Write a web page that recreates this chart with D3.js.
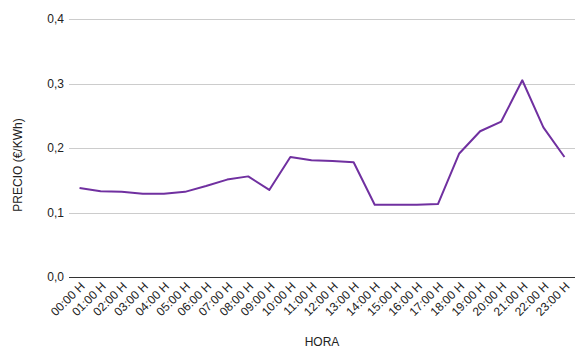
<!DOCTYPE html>
<meta charset="utf-8">
<style>
body {
  margin: 0;
  background: #fff;
  font-family: "Liberation Sans", Arial, sans-serif;
}
.grid line {
  stroke: #cccccc;
  stroke-width: 1;
}
.axis text {
  fill: #222;
  font-size: 12px;
}
</style>
<body>
<script src="https://cdn.jsdelivr.net/npm/d3@7/dist/d3.min.js"></script>
<script>

var width = 587,
    height = 353;

var margin = {top: 19, right: 12, bottom: 76, left: 69};

var hours = ["00:00 H", "01:00 H", "02:00 H", "03:00 H", "04:00 H", "05:00 H",
             "06:00 H", "07:00 H", "08:00 H", "09:00 H", "10:00 H", "11:00 H",
             "12:00 H", "13:00 H", "14:00 H", "15:00 H", "16:00 H", "17:00 H",
             "18:00 H", "19:00 H", "20:00 H", "21:00 H", "22:00 H", "23:00 H"];

var prices = [0.138, 0.133, 0.132, 0.129, 0.129, 0.132,
              0.141, 0.151, 0.156, 0.135, 0.186, 0.181,
              0.180, 0.178, 0.112, 0.112, 0.112, 0.113,
              0.191, 0.226, 0.241, 0.305, 0.232, 0.186];

var yTicks = [0, 0.1, 0.2, 0.3, 0.4];

var svg = d3.select("body").append("svg")
    .attr("width", width)
    .attr("height", height);

var x = d3.scalePoint()
    .domain(hours)
    .range([margin.left, width - margin.right])
    .padding(0.5);

var y = d3.scaleLinear()
    .domain([0, 0.4])
    .range([height - margin.bottom, margin.top]);

var fmt = function(d) { return d3.format(".1f")(d).replace(".", ","); };

// grid lines
svg.append("g")
    .attr("class", "grid")
  .selectAll("line")
  .data(yTicks.slice(1))
  .enter().append("line")
    .attr("x1", margin.left)
    .attr("x2", width - margin.right)
    .attr("y1", function(d) { return Math.round(y(d)) + 0.5; })
    .attr("y2", function(d) { return Math.round(y(d)) + 0.5; });

// y labels
svg.append("g")
    .attr("class", "axis")
  .selectAll("text")
  .data(yTicks)
  .enter().append("text")
    .attr("x", margin.left - 5)
    .attr("y", function(d) { return y(d); })
    .attr("dy", "0.35em")
    .attr("text-anchor", "end")
    .text(fmt);

// baseline
svg.append("line")
    .attr("x1", margin.left)
    .attr("x2", width - margin.right)
    .attr("y1", Math.round(y(0)) + 0.5)
    .attr("y2", Math.round(y(0)) + 0.5)
    .attr("stroke", "#333")
    .attr("stroke-width", 1);

// x labels
svg.append("g")
    .attr("class", "axis")
  .selectAll("text")
  .data(hours)
  .enter().append("text")
    .attr("text-anchor", "end")
    .attr("transform", function(d) {
      return "translate(" + (x(d) + 6) + "," + (y(0) + 10) + ") rotate(-45)";
    })
    .text(function(d) { return d; });

// line
var line = d3.line()
    .x(function(d, i) { return x(hours[i]); })
    .y(function(d) { return y(d); });

svg.append("path")
    .datum(prices)
    .attr("fill", "none")
    .attr("stroke", "#7030a0")
    .attr("stroke-width", 2)
    .attr("stroke-linejoin", "round")
    .attr("d", line);

// axis titles
svg.append("text")
    .attr("transform", "translate(22,165) rotate(-90)")
    .attr("text-anchor", "middle")
    .attr("font-size", "12px")
    .attr("fill", "#222")
    .text("PRECIO (€/KWh)");

svg.append("text")
    .attr("x", 322)
    .attr("y", 346)
    .attr("text-anchor", "middle")
    .attr("font-size", "12px")
    .attr("fill", "#222")
    .text("HORA");

</script>
